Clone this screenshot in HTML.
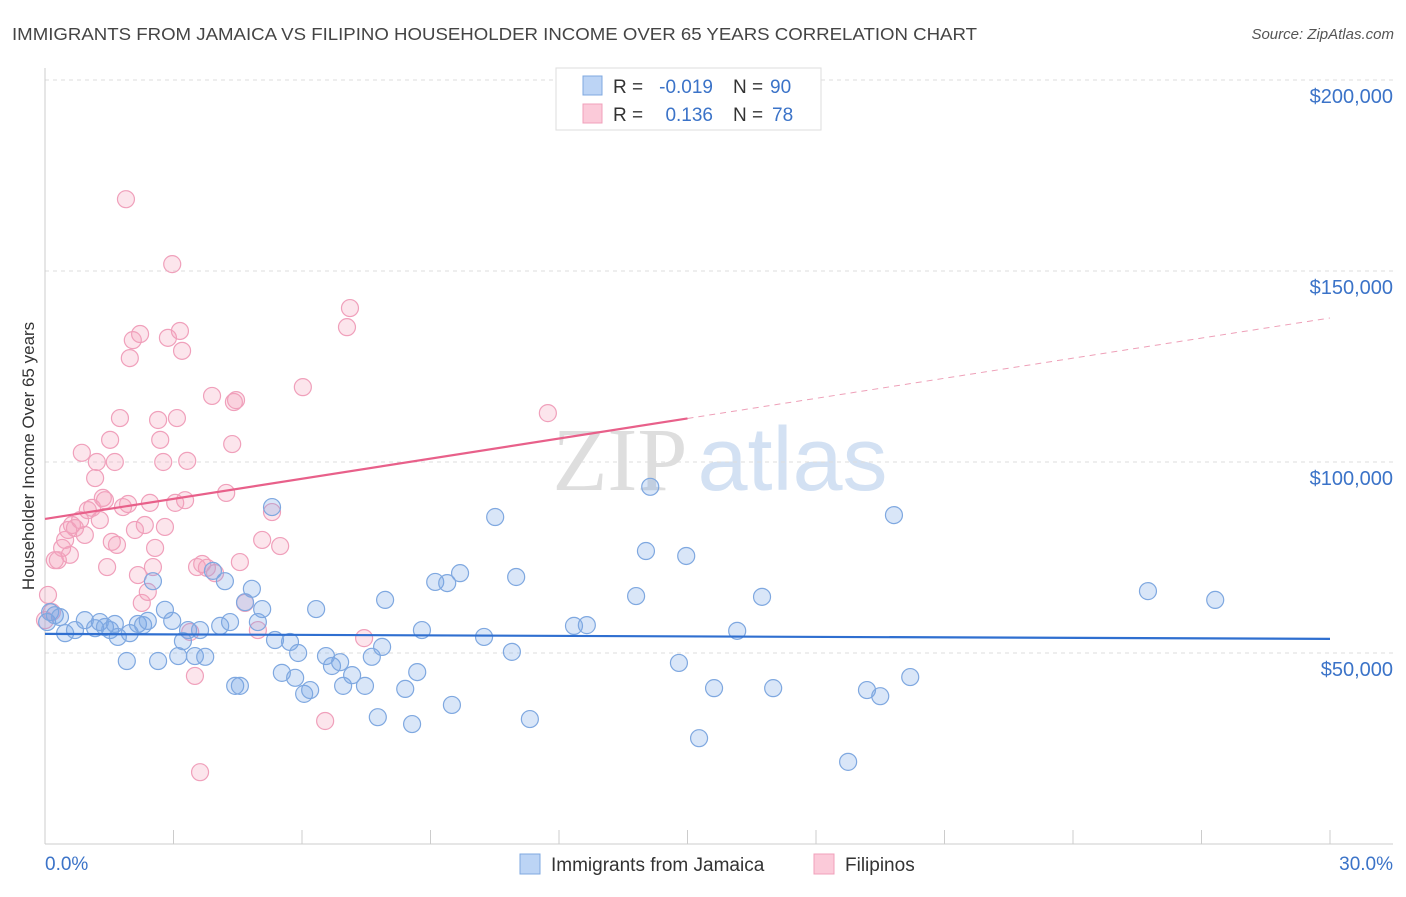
<!DOCTYPE html>
<html><head><meta charset="utf-8"><style>
body{margin:0;background:#fff;font-family:"Liberation Sans",sans-serif;}
svg text{font-family:"Liberation Sans",sans-serif;}
</style></head><body>
<svg id="chart" width="1406" height="892" xmlns="http://www.w3.org/2000/svg">
<text x="12" y="40" font-size="17.5" fill="#444" textLength="965" lengthAdjust="spacingAndGlyphs">IMMIGRANTS FROM JAMAICA VS FILIPINO HOUSEHOLDER INCOME OVER 65 YEARS CORRELATION CHART</text>
<text x="1394" y="39" font-size="15" fill="#555" text-anchor="end" font-style="italic">Source: ZipAtlas.com</text>
<text x="720" y="490" font-size="90" text-anchor="middle"><tspan fill="#dedede" font-family="Liberation Serif">ZIP</tspan><tspan fill="#d3e1f3" dx="10">atlas</tspan></text>
<text transform="translate(34,456) rotate(-90)" font-size="17" fill="#333" text-anchor="middle">Householder Income Over 65 years</text>
<g id="grid"></g>
<g id="marks"></g>
<g>
<rect x="556" y="68" width="265" height="62" fill="#fff" stroke="#ddd"/>
<rect x="583" y="76" width="19" height="19" fill="#bcd4f5" stroke="#7fa8e0"/>
<rect x="583" y="104" width="19" height="19" fill="#fbcad9" stroke="#f0a0bb"/>
<text x="613" y="93" font-size="19" fill="#333">R =</text>
<text x="713" y="93" font-size="19" fill="#3b73c8" text-anchor="end">-0.019</text>
<text x="733" y="93" font-size="19" fill="#333">N =</text>
<text x="770" y="93" font-size="19" fill="#3b73c8">90</text>
<text x="613" y="121" font-size="19" fill="#333">R =</text>
<text x="713" y="121" font-size="19" fill="#3b73c8" text-anchor="end">0.136</text>
<text x="733" y="121" font-size="19" fill="#333">N =</text>
<text x="772" y="121" font-size="19" fill="#3b73c8">78</text>
</g>
<g>
<rect x="520" y="854" width="20" height="20" fill="#bcd4f5" stroke="#7fa8e0"/>
<text x="551" y="871" font-size="19" fill="#333">Immigrants from Jamaica</text>
<rect x="814" y="854" width="20" height="20" fill="#fbcad9" stroke="#f0a0bb"/>
<text x="845" y="871" font-size="19" fill="#333">Filipinos</text>
</g>
</svg>
<script>
const xTicks=[0,3,6,9,12,15,18,21,24,27,30];
const yTicks=[50000,100000,150000,200000];
const yTickLabels=["$50,000","$100,000","$150,000","$200,000"];
const blueX=[0.05,0.12,0.23,0.35,0.47,0.70,0.93,1.17,1.28,1.40,1.52,1.63,1.70,1.91,1.98,2.17,2.29,2.40,2.52,2.64,2.80,2.97,3.11,3.22,3.34,3.50,3.62,3.74,3.92,4.09,4.20,4.32,4.44,4.55,4.67,4.83,4.97,5.07,5.30,5.37,5.53,5.72,5.84,5.91,6.05,6.19,6.33,6.56,6.70,6.89,6.96,7.17,7.47,7.63,7.77,7.87,7.94,8.41,8.57,8.69,8.80,9.11,9.39,9.50,9.69,10.25,10.51,10.90,11.00,11.32,12.35,12.65,13.80,14.03,14.13,14.80,14.97,15.27,15.62,16.16,16.74,17.00,18.75,19.19,19.50,19.82,20.20,25.75,27.32];
const blueY=[58.1,60.7,59.9,59.4,55.2,56.0,58.6,56.5,58.1,56.8,56.0,57.6,54.2,47.9,55.2,57.6,57.3,58.4,68.8,47.9,61.3,58.4,49.2,53.1,56.0,49.2,56.0,49.0,71.5,57.1,68.8,58.1,41.4,41.4,63.3,66.8,58.1,61.5,88.2,53.4,44.8,52.9,43.5,50.0,39.3,40.3,61.5,49.2,46.6,47.6,41.4,44.2,41.4,49.0,33.2,51.6,63.9,40.6,31.4,45.0,56.0,68.6,68.3,36.4,70.9,54.2,85.6,50.3,69.9,32.7,57.1,57.3,64.9,76.7,93.5,47.4,75.4,27.7,40.8,55.8,64.7,40.8,21.5,40.3,38.7,86.1,43.7,66.2,63.9];
const pinkX=[0,0.07,0.16,0.23,0.30,0.40,0.47,0.54,0.58,0.63,0.70,0.82,0.86,0.93,1.00,1.10,1.17,1.21,1.28,1.35,1.40,1.45,1.52,1.56,1.63,1.68,1.75,1.82,1.89,1.94,1.98,2.05,2.10,2.17,2.22,2.26,2.33,2.40,2.45,2.52,2.57,2.64,2.69,2.76,2.80,2.87,2.97,3.04,3.08,3.15,3.20,3.27,3.32,3.39,3.50,3.55,3.62,3.67,3.78,3.90,3.97,4.23,4.37,4.41,4.46,4.55,4.67,4.97,5.07,5.30,5.49,6.02,6.54,7.05,7.12,7.45,11.74];
const pinkY=[58.6,65.2,60.7,74.3,74.3,77.5,79.6,82.2,75.7,83.5,82.7,84.8,102.4,80.9,87.4,88.0,95.8,100.0,84.8,90.6,90.0,72.5,105.8,79.1,100.0,78.3,111.5,88.2,168.8,89.0,127.2,131.9,82.2,70.4,133.5,63.1,83.5,66.0,89.3,72.5,77.5,111.0,105.8,100.0,83.0,132.5,151.8,89.3,111.5,134.3,129.1,90.0,100.3,55.5,44.0,72.5,18.8,73.3,72.3,117.3,70.9,91.9,104.7,115.7,116.2,73.8,63.1,56.0,79.6,86.9,78.0,119.6,32.2,135.3,140.3,53.9,112.8];
const blueTrend=[55.0,53.7];
const pinkTrend=[85.1,137.7];
const pinkSolidEnd=15;

const NS="http://www.w3.org/2000/svg";
const X=v=>45+v*(1285/30);
const Y=v=>80+(200000-v)*(191/50000);
const Yk=v=>Y(v*1000);
function mk(tag,attrs,parent){const e=document.createElementNS(NS,tag);for(const k in attrs)e.setAttribute(k,attrs[k]);parent.appendChild(e);return e;}
const grid=document.getElementById('grid'),marks=document.getElementById('marks');
yTicks.forEach((t,i)=>{
  const l=mk('line',{x1:45,x2:1393,y1:Y(t),y2:Y(t),stroke:'#ddd','stroke-dasharray':'4,4'},grid);
  
  
  const tx=mk('text',{x:1393,y:Y(t)+23,'font-size':20,fill:'#3b73c8','text-anchor':'end'},grid);
  tx.textContent=yTickLabels[i];
  
  
});
const ax=mk('line',{x1:45,x2:45,y1:68,y2:844,stroke:'#ccc'},grid);


const bx=mk('line',{x1:45,x2:1393,y1:844,y2:844,stroke:'#ccc'},grid);


xTicks.forEach(t=>{
  const l=mk('line',{x1:X(t),x2:X(t),y1:830,y2:844,stroke:'#ccc'},grid);
  
  
});
const x0=mk('text',{x:45,y:870,'font-size':19,fill:'#3b73c8'},grid);x0.textContent=xTicks[0].toFixed(1)+'%';


const x1=mk('text',{x:1393,y:870,'font-size':19,fill:'#3b73c8','text-anchor':'end'},grid);x1.textContent=xTicks[xTicks.length-1].toFixed(1)+'%';



pinkY.forEach((v,i)=>{
  const c=mk('circle',{cx:X(pinkX[i]),cy:Yk(v),r:8.5,fill:'rgba(244,160,188,0.28)',stroke:'#f0a0bb','stroke-width':1.2},marks);
  
  
});
blueY.forEach((v,i)=>{
  const c=mk('circle',{cx:X(blueX[i]),cy:Yk(v),r:8.5,fill:'rgba(120,165,230,0.28)',stroke:'#7fa8e0','stroke-width':1.2},marks);
  
  
});
const pAt=x=>pinkTrend[0]+(pinkTrend[1]-pinkTrend[0])*x/30;
const pt1=mk('line',{x1:X(0),y1:Yk(pinkTrend[0]),x2:X(pinkSolidEnd),y2:Yk(pAt(pinkSolidEnd)),stroke:'#e8608a','stroke-width':2.2},marks);


const pt2=mk('line',{x1:X(pinkSolidEnd),y1:Yk(pAt(pinkSolidEnd)),x2:X(30),y2:Yk(pinkTrend[1]),stroke:'#eea0b8','stroke-width':1,'stroke-dasharray':'6,5'},marks);


const bt=mk('line',{x1:X(0),y1:Yk(blueTrend[0]),x2:X(30),y2:Yk(blueTrend[1]),stroke:'#2f6fd0','stroke-width':2.2},marks);


</script>
</body></html>
